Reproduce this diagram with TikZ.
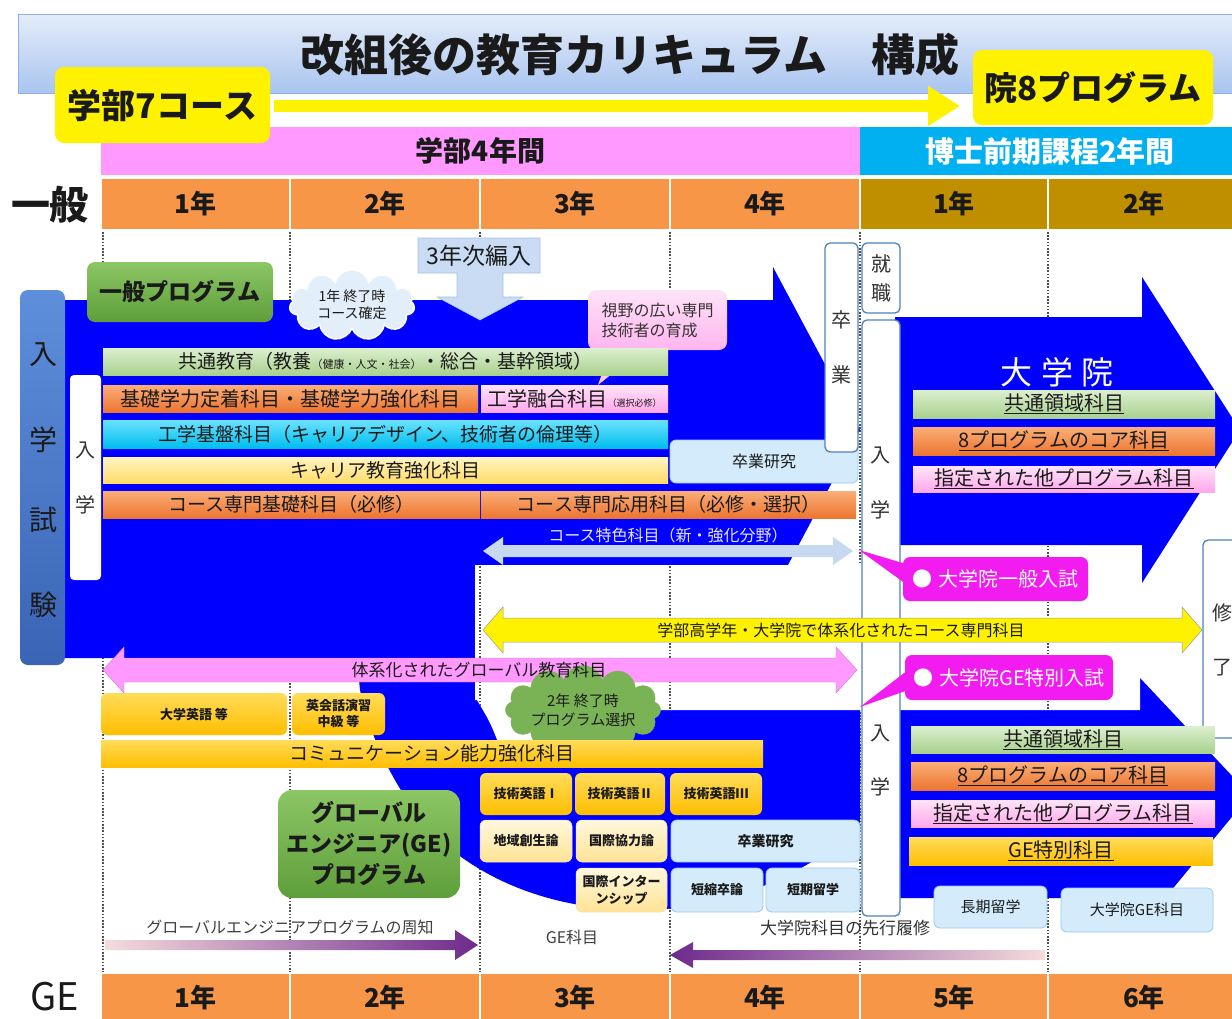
\documentclass[tikz,border=0pt]{standalone}
\usepackage{fontspec}
\setmainfont{Noto Sans CJK JP}
\usetikzlibrary{shapes.symbols,arrows.meta}
\definecolor{bandpink}{HTML}{FF99FF}
\definecolor{bandcyan}{HTML}{00B0F0}
\definecolor{yrorange}{HTML}{F79646}
\definecolor{yrgold}{HTML}{BF8F00}
\definecolor{bigblue}{HTML}{0000FF}
\definecolor{dotgray}{HTML}{505050}
\definecolor{txt}{HTML}{1A1A1A}
\definecolor{grnL}{HTML}{DCEFCF}
\definecolor{grnD}{HTML}{A9D18E}
\definecolor{orL}{HTML}{FBAE78}
\definecolor{orD}{HTML}{EC7530}
\definecolor{pkL}{HTML}{FFE3F8}
\definecolor{pkD}{HTML}{FFA8EC}
\definecolor{cyL}{HTML}{6BE2FF}
\definecolor{cyD}{HTML}{00BEEE}
\definecolor{ylL}{HTML}{FFF4C2}
\definecolor{ylD}{HTML}{FFDC6A}
\definecolor{gdL}{HTML}{FFDC5A}
\definecolor{gdD}{HTML}{FFBE00}
\definecolor{lyL}{HTML}{FFF8DF}
\definecolor{lyD}{HTML}{FFE394}
\definecolor{lbF}{HTML}{D3EBFA}
\definecolor{lbE}{HTML}{9CC8EC}
\definecolor{mag}{HTML}{F21CF0}
\definecolor{gpL}{HTML}{8CC665}
\definecolor{gpD}{HTML}{5E9E3A}
\definecolor{exL}{HTML}{5E8FDB}
\definecolor{exD}{HTML}{3A64B6}
\definecolor{frame}{HTML}{4F81BD}
\definecolor{purp}{HTML}{6E2A8C}
\definecolor{fadeP}{HTML}{F5DCDC}
\definecolor{fadeB}{HTML}{B4C8E4}
\definecolor{arrLB}{HTML}{C6D9F0}
\definecolor{bnL}{HTML}{E4ECFA}
\definecolor{bnD}{HTML}{A9C5EF}
\definecolor{bnE}{HTML}{8DB0E0}
\definecolor{cloudA}{HTML}{E3EEFB}
\definecolor{cloudB}{HTML}{79B356}
\definecolor{hen}{HTML}{C9DCF4}
\definecolor{henE}{HTML}{A5C1E8}
\newcommand\fz[1]{\fontsize{#1}{#1}\selectfont}
\begin{document}
\begin{tikzpicture}[x=1pt,y=-1pt,
  base/.style={inner sep=0pt,outer sep=0pt,text=txt,align=center},
  cell/.style={base,draw=white,line width=1.2pt,minimum height=52pt,font=\bfseries\fz{26}},
  bar/.style={base,minimum height=27pt,font=\fz{19}},
  gbar/.style={base,minimum height=27pt,minimum width=304pt,font=\fz{20}},
  orbar/.style={top color=orL,bottom color=orD},
  grbar/.style={top color=grnL,bottom color=grnD},
  pkbar/.style={top color=pkL,bottom color=pkD},
  gdbar/.style={top color=gdL,bottom color=gdD},
  rbox/.style={base,rounded corners=6pt},
  gold/.style={rbox,top color=gdL,bottom color=gdD,font=\bfseries\fz{13}},
  lyel/.style={rbox,top color=lyL,bottom color=lyD,draw=lyD!80!black!40,line width=.5pt,font=\bfseries\fz{13}},
  lblue/.style={rbox,fill=lbF,draw=lbE,line width=.8pt,font=\fz{15}},
  vbox/.style={base,fill=white,draw=frame,line width=1.3pt,rounded corners=5pt},
  vch/.style={base,font=\fz{20},text=black!80},
  magbox/.style={rbox,rounded corners=7pt,fill=mag,text=white,font=\fz{20}},
  dotl/.style={draw=dotgray,line width=1.6pt,dash pattern=on 1.6pt off 1.6pt}
]
\useasboundingbox (0,0) rectangle (1232,1018);
\fill[white] (0,0) rectangle (1232,1018);

% ---------- header ----------
\node[base,draw=bnE,top color=bnL,bottom color=bnD,minimum width=1222pt,minimum height=79pt] (banner) at (629,53.5) {};
\node[base,font=\bfseries\fz{44}] (title) at (630,55) {改組後の教育カリキュラム　構成};

\node[base,fill=bandpink,minimum width=759pt,minimum height=48pt,font=\bfseries\fz{28}] (ug4) at (480.5,151) {学部4年間};
\node[base,fill=bandcyan,minimum width=380pt,minimum height=48pt,font=\bfseries\fz{29},text=white] (m2y) at (1050,151) {博士前期課程2年間};

\foreach \cx/\w/\lab/\nm in {195.5/189/1年/ta,385/190/2年/tb,575/190/3年/tc,765/190/4年/td}
  {\node[cell,fill=yrorange,minimum width=\w pt] (\nm) at (\cx,204) {\lab};}
\node[cell,fill=yrgold,minimum width=188pt] (te) at (954,204) {1年};
\node[cell,fill=yrgold,minimum width=192pt] (tf) at (1144,204) {2年};
\node[base,font=\bfseries\fz{39}] (ippan) at (50,205) {一般};

\foreach \cx/\w/\lab/\nm in {195.5/189/1年/ba,385/190/2年/bb,575/190/3年/bc,765/190/4年/bd,954/188/5年/be,1144/192/6年/bf}
  {\node[cell,fill=yrorange,minimum width=\w pt,minimum height=50pt] (\nm) at (\cx,998) {\lab};}
\node[base,font=\fz{38}] (ge) at (55,997) {GE};

\node[base,fill=yellow,rounded corners=9pt,minimum width=215pt,minimum height=76pt,font=\bfseries\fz{34}] (ug7) at (162.5,105) {学部7コース};
\node[base,fill=yellow,rounded corners=9pt,minimum width=240pt,minimum height=75pt,font=\bfseries\fz{33}] (g8) at (1093,87.5) {院8プログラム};
\coordinate (ya) at ([xshift=4pt,yshift=-1pt]ug7.east);
\coordinate (yb) at ([xshift=-13pt]g8.west |- ya);
\draw[yellow,line width=12pt,-{Triangle[width=38pt,length=32pt]}] (ya) -- (yb);

% ---------- guides ----------
\foreach \xx in {103,290,480,670,860,1048} {\draw[dotl] (\xx,232) -- (\xx,972);}

% ---------- big blue shapes ----------
\fill[bigblue] (355,640) -- (860,640) -- (860,826) .. controls (800,880) and (720,910) .. (640,910) .. controls (560,910) and (490,885) .. (440,840) .. controls (400,800) and (370,740) .. (360,690) -- cycle;
\fill[bigblue] (60,300) -- (773,300) -- (773,267) -- (860,430) -- (773,593) -- (773,565) -- (475,565) -- (475,658) -- (60,658) -- cycle;
\fill[bigblue] (895,317) -- (1142,317) -- (1142,277) -- (1240,430) -- (1142,583) -- (1142,545) -- (895,545) -- cycle;
\fill[bigblue] (895,710) -- (1140,710) -- (1140,678) -- (1250,795) -- (1165,898) -- (895,898) -- cycle;
\fill[white] (475,565) -- (1140,565) -- (1140,710) -- (560,710) -- (560,742) -- (498,742) .. controls (490,722) .. (477,700) -- (475,700) -- cycle;
\begin{scope}
  \clip (475,565) -- (1140,565) -- (1140,710) -- (560,710) -- (560,742) -- (498,742) .. controls (490,722) .. (477,700) -- (475,700) -- cycle;
  \foreach \xx in {480,670,1048} {\draw[dotl] (\xx,560) -- (\xx,745);}
\end{scope}

% ---------- left side ----------
\node[base,rounded corners=8pt,top color=exL,bottom color=exD,minimum width=45pt,minimum height=375pt] (exam) at (42.5,477.5) {};
\foreach \yy/\ch/\nm in {355/入/ea,440/学/eb,520/試/ec,605/験/ed}
  {\node[base,font=\fz{28}] (\nm) at (43,\yy) {\ch};}
\node[base,fill=white,rounded corners=4pt,minimum width=31pt,minimum height=205pt] (ent1) at (85.5,477.5) {};
\node[vch] (ent1a) at (85,450) {入};
\node[vch] (ent1b) at (85,505) {学};

\node[rbox,rounded corners=8pt,top color=gpL,bottom color=gpD,minimum width=186pt,minimum height=60pt,font=\bfseries\fz{23}] (genprog) at (180,292) {一般プログラム};
\node[cloud,cloud puffs=11,aspect=1.9,fill=cloudA,draw=white,line width=1.5pt,minimum width=125pt,minimum height=66pt,inner sep=0pt,align=center,text=txt,font=\fz{14}] (cl1) at (352,305) {1年 終了時\\[3pt]コース確定};

% 3年次編入
\filldraw[fill=hen,draw=henE,line width=.6pt] (418,238) -- (540,238) -- (540,273) -- (503,273) -- (503,297) -- (523,297) -- (480,320) -- (437,297) -- (457,297) -- (457,273) -- (418,273) -- cycle;
\node[base,font=\fz{23}] (hennyu) at (479,256) {3年次編入};

% callout
\fill[pkD!70] (612,345) -- (648,345) -- (598,385) -- cycle;
\node[rbox,rounded corners=8pt,top color=pkL,bottom color=pkD!85,minimum width=139pt,minimum height=60pt,font=\fz{16},align=left,text=black!80] (shiya) at (657.5,320) {視野の広い専門\\[4pt]技術者の育成};

% ---------- undergraduate bars ----------
\node[bar,grbar,minimum width=565pt] (kyotsu) at (385.5,361.5) {共通教育（教養{\fz{11}（健康・人文・社会）}・総合・基幹領域）};
\node[bar,orbar,minimum width=375pt,font=\fz{20}] (kiso) at (290.5,398.5) {基礎学力定着科目・基礎学力強化科目};
\node[bar,pkbar,minimum width=187pt,font=\fz{20}] (yugo) at (574.5,398.5) {工学融合科目{\fz{9}（選択必修）}};
\node[bar,top color=cyL,bottom color=cyD,minimum width=565pt,minimum height=28pt] (kiban) at (385.5,434) {工学基盤科目（キャリアデザイン、技術者の倫理等）};
\node[bar,top color=ylL,bottom color=ylD,minimum width=565pt,minimum height=26pt] (career) at (385.5,470) {キャリア教育強化科目};
\node[lblue,minimum width=188pt,minimum height=43pt,font=\fz{16}] (sotsu1) at (764,461.5) {卒業研究};
\node[bar,orbar,minimum width=377pt] (skiso) at (291.5,504.5) {コース専門基礎科目（必修）};
\node[bar,orbar,minimum width=375pt] (soyo) at (668.5,504.5) {コース専門応用科目（必修・選択）};
\node[base,font=\fz{16},text=white!90!blue] (toku) at (668,535) {コース特色科目（新・強化分野）};
\fill[arrLB] (483,551) -- (503,537) -- (503,545) -- (833,545) -- (833,537) -- (853,551) -- (833,565) -- (833,557) -- (503,557) -- (503,565) -- cycle;

% ---------- vertical boxes ----------
\node[vbox,minimum width=33pt,minimum height=209pt] (grad) at (841.5,347.5) {};
\node[vch] (grada) at (841,320) {卒};
\node[vch] (gradb) at (841,375) {業};
\node[vbox,minimum width=38pt,minimum height=70pt] (job) at (881,278) {};
\node[vch] (joba) at (881,264) {就};
\node[vch] (jobb) at (881,293) {職};
\node[vbox,minimum width=38pt,minimum height=596pt] (ent2) at (881,618) {};
\foreach \yy/\ch/\nm in {455/入/e2a,510/学/e2b,733/入/e2c,787/学/e2d}
  {\node[vch] (\nm) at (880,\yy) {\ch};}
\node[vbox,minimum width=42pt,minimum height=198pt] (fin) at (1224,639) {};
\node[vch] (fina) at (1222,613) {修};
\node[vch] (finb) at (1222,668) {了};

% ---------- long double arrows ----------
\filldraw[fill=yellow,draw=black!40,line width=.5pt] (483,630) -- (503,607) -- (503,618) -- (1182,618) -- (1182,607) -- (1202,630) -- (1182,653) -- (1182,642) -- (503,642) -- (503,653) -- cycle;
\node[base,font=\fz{16}] (senmon) at (841,630) {学部高学年・大学院で体系化されたコース専門科目};
\filldraw[fill=bandpink,draw=bandpink!80!black,line width=.4pt] (103,670) -- (124,647) -- (124,658) -- (836,658) -- (836,647) -- (857,670) -- (836,693) -- (836,682) -- (124,682) -- (124,693) -- cycle;

% ---------- graduate ----------
\node[base,font=\fz{32},text=white] (daigakuin) at (1057,372) {大\hspace{9pt}学\hspace{9pt}院};
\node[gbar,grbar,minimum width=302pt,minimum height=28pt] (ga) at (1064,404) {\underline{共通領域科目}};
\node[gbar,orbar,minimum width=302pt,minimum height=28pt] (gb) at (1064,441) {\underline{8プログラムのコア科目}};
\node[gbar,pkbar,minimum width=302pt,minimum height=26pt] (gc) at (1064,479) {\underline{指定された他プログラム科目}};
\node[gbar,grbar] (ha) at (1063,739.5) {\underline{共通領域科目}};
\node[gbar,orbar,minimum height=28pt] (hb) at (1063,776) {\underline{8プログラムのコア科目}};
\node[gbar,pkbar] (hc) at (1063,813.5) {\underline{指定された他プログラム科目}};
\node[gbar,gdbar,minimum height=28pt] (hd) at (1061,851) {\underline{GE特別科目}};

\fill[mag] (859,550) -- (906,564) -- (906,584) -- cycle;
\node[magbox,minimum width=185pt,minimum height=44pt] (m1) at (995.5,579) {●\hspace{6pt}大学院一般入試};
\fill[mag] (860,707) -- (908,670) -- (908,690) -- cycle;
\node[magbox,minimum width=208pt,minimum height=45pt] (m2) at (1009,677.5) {●\hspace{6pt}大学院GE特別入試};

% ---------- GE lower part ----------
\node[gold,minimum width=186pt,minimum height=42pt] (eigo) at (194,714) {大学英語 等};
\node[gold,minimum width=93pt,minimum height=42pt,font=\bfseries\fontsize{13}{16}\selectfont] (kaiwa) at (338.5,714) {英会話演習\\中級 等};
\node[cloud,cloud puffs=12,aspect=2.4,fill=cloudB,draw=cloudB,minimum width=150pt,minimum height=52pt,inner sep=0pt,align=center,text=txt,font=\fz{15}] (cl2) at (583,710) {2年 終了時\\[4pt]プログラム選択};
\node[bar,gdbar,minimum width=662pt] (comm) at (432,753.5) {コミュニケーション能力強化科目};
\node[base,font=\fz{17}] (global) at (479,670) {体系化されたグローバル教育科目};

\node[gold,minimum width=92pt,minimum height=42pt] (te1) at (526,794) {技術英語Ⅰ};
\node[gold,minimum width=90pt,minimum height=42pt] (te2) at (620,794) {技術英語Ⅱ};
\node[gold,minimum width=92pt,minimum height=42pt] (te3) at (716,794) {技術英語Ⅲ};
\node[lyel,minimum width=92pt,minimum height=42pt] (chiiki) at (526,841) {地域創生論};
\node[lyel,minimum width=91pt,minimum height=42pt] (kyoryoku) at (621.5,841) {国際協力論};
\node[lyel,minimum width=91pt,minimum height=44pt,font=\bfseries\fontsize{13}{17}\selectfont] (intern) at (621.5,890) {国際インター\\ンシップ};
\node[lblue,minimum width=189pt,minimum height=42pt,font=\bfseries\fz{14}] (sotsu2) at (765.5,841) {卒業研究};
\node[lblue,minimum width=92pt,minimum height=44pt,font=\bfseries\fz{13}] (tanshuku) at (717,890) {短縮卒論};
\node[lblue,minimum width=94pt,minimum height=44pt,font=\bfseries\fz{13}] (tanki) at (813,890) {短期留学};
\node[lblue,minimum width=113pt,minimum height=42pt,font=\fz{15}] (choki) at (990.5,907) {長期留学};
\node[lblue,minimum width=152pt,minimum height=44pt,font=\fz{15}] (ingeka) at (1137,910) {大学院GE科目};

\node[rbox,rounded corners=14pt,top color=gpL,bottom color=gpD,minimum width=182pt,minimum height=108pt,font=\bfseries\fontsize{23}{31}\selectfont] (geprog) at (369,844) {グローバル\\エンジニア(GE)\\プログラム};

% GE arrows
\shade[left color=fadeP,middle color=fadeB,right color=purp] (105,940) -- (455,940) -- (455,930) -- (478,945) -- (455,960) -- (455,950) -- (105,950) -- cycle;
\node[base,font=\fz{16},text=black!75] (shuchi) at (290,927) {グローバルエンジニアプログラムの周知};
\node[base,font=\fz{16},text=black!75] (gekamoku) at (572,937) {GE科目};
\shade[left color=purp,middle color=fadeB,right color=fadeP] (670,955) -- (693,942) -- (693,950) -- (1045,950) -- (1045,960) -- (693,960) -- (693,968) -- cycle;
\node[base,font=\fz{17},text=black!80] (senko) at (845,928) {大学院科目の先行履修};
\end{tikzpicture}
\end{document}
